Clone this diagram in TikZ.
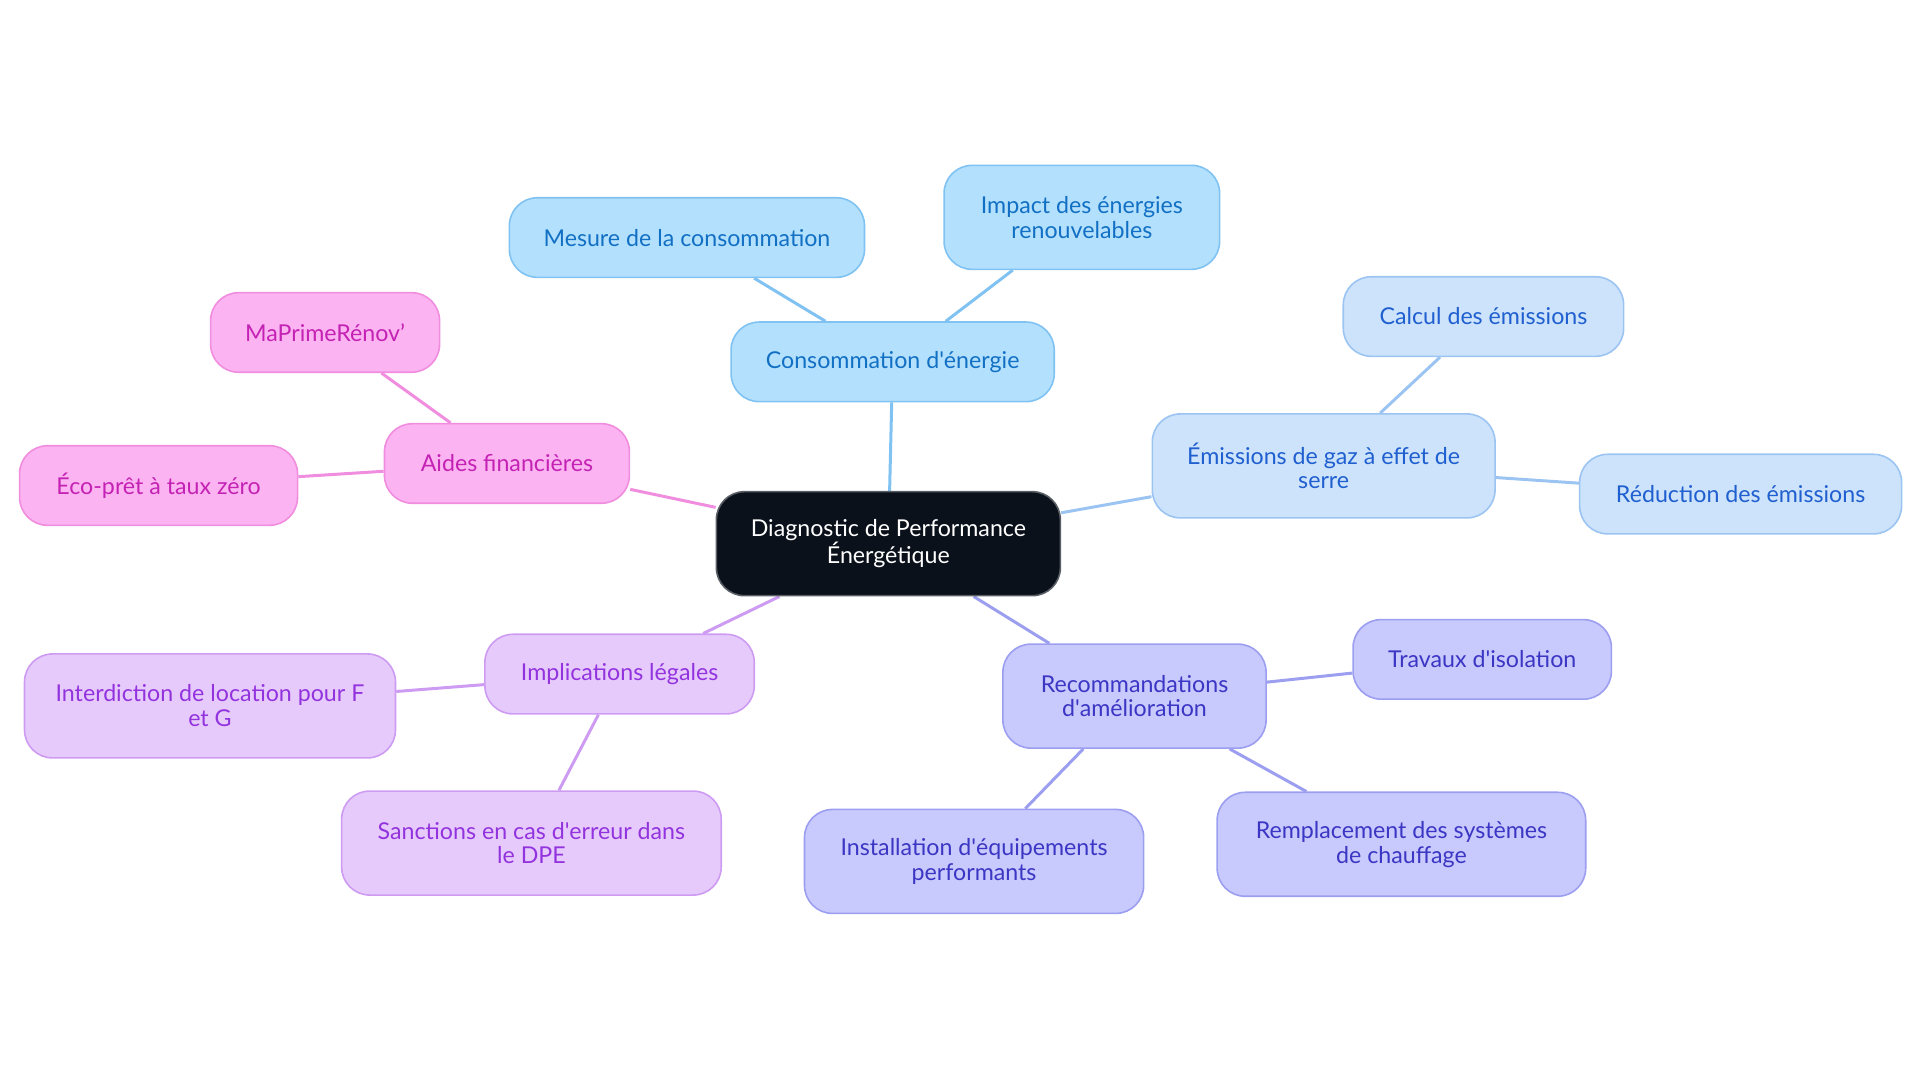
\documentclass[tikz,border=0pt]{standalone}
\usepackage{fontspec}
\setmainfont{Lato}
\usetikzlibrary{positioning, backgrounds}

% 顏色定義
\definecolor{rootfill}{HTML}{0B111B}
\definecolor{rootdraw}{HTML}{5A5F66}
\definecolor{consofill}{HTML}{B3E0FD}
\definecolor{consodraw}{HTML}{80C2F2}
\definecolor{consotext}{HTML}{1270C4}
\definecolor{gazfill}{HTML}{CCE3FB}
\definecolor{gazdraw}{HTML}{9CC4F2}
\definecolor{gaztext}{HTML}{1F5FCF}
\definecolor{recofill}{HTML}{C8C9FC}
\definecolor{recodraw}{HTML}{9C9EF0}
\definecolor{recotext}{HTML}{3B36C4}
\definecolor{legalfill}{HTML}{E7CAFC}
\definecolor{legaldraw}{HTML}{CD9CF2}
\definecolor{legaltext}{HTML}{9233DE}
\definecolor{aidefill}{HTML}{FCB3F1}
\definecolor{aidedraw}{HTML}{F08DDF}
\definecolor{aidetext}{HTML}{C422B4}

% 直撇號
\newcommand{\apos}{\textquotesingle}

\begin{document}
\begin{tikzpicture}[
    x=0.6123pt, y=-0.6123pt,
    font=\fontsize{11.6}{12.4}\selectfont,
    bubble/.style={draw, line width=0.8pt, rounded corners=14pt, align=center, inner sep=0pt},
    one/.style={minimum height=39.8pt},
    two/.style={minimum height=52pt},
    root/.style={bubble, fill=rootfill, draw=rootdraw, text=white},
    conso/.style={bubble, fill=consofill, draw=consodraw, text=consotext},
    gaz/.style={bubble, fill=gazfill, draw=gazdraw, text=gaztext},
    reco/.style={bubble, fill=recofill, draw=recodraw, text=recotext},
    legal/.style={bubble, fill=legalfill, draw=legaldraw, text=legaltext},
    aide/.style={bubble, fill=aidefill, draw=aidedraw, text=aidetext},
    link/.style={line width=1.5pt}
]

    % --- 0. 畫布範圍 ---
    \useasboundingbox (0,0) rectangle (1568,884.5);

    % --- 1. 中心節點 ---
    \node[root, two, minimum width=172pt] (dpe) at (725.5,444) {Diagnostic de Performance\\Énergétique};

    % --- 2. 第一層分支 ---
    \node[conso, one, minimum width=161.6pt] (conso) at (729,295.5) {Consommation d\apos énergie};
    \node[gaz, two, minimum width=171.4pt] (gaz) at (1081,380.5) {Émissions de gaz à effet de\\serre};
    \node[reco, two, minimum width=131.6pt] (reco) at (926.5,568.5) {Recommandations\\d\apos amélioration};
    \node[legal, one, minimum width=134.7pt] (legal) at (506,550.5) {Implications légales};
    \node[aide, one, minimum width=122.5pt] (aide) at (414,378.5) {Aides financières};

    % --- 3. 第二層葉節點 ---
    % Consommation
    \node[conso, one, minimum width=177.6pt] (mesure) at (561,194) {Mesure de la consommation};
    \node[conso, two, minimum width=137.8pt] (impact) at (883.5,177.5) {Impact des énergies\\renouvelables};

    % Émissions
    \node[gaz, one, minimum width=140.2pt] (calcul) at (1211.5,258.5) {Calcul des émissions};
    \node[gaz, one, minimum width=161pt] (reduc) at (1421.5,403.5) {Réduction des émissions};

    % Recommandations
    \node[reco, one, minimum width=129.2pt] (isol) at (1210.5,538.5) {Travaux d\apos isolation};
    \node[reco, two, minimum width=169.6pt] (equip) at (795.5,703.5) {Installation d\apos équipements\\performants};
    \node[reco, two, minimum width=184.3pt] (chauf) at (1144.5,689.5) {Remplacement des systèmes\\de chauffage};

    % Implications
    \node[legal, two, minimum width=185.5pt] (interdit) at (171.5,576.5) {Interdiction de location pour F\\et G};
    \node[legal, two, minimum width=189.8pt] (sanction) at (434,688.5) {Sanctions en cas d\apos erreur dans\\le DPE};

    % Aides
    \node[aide, one, minimum width=114.5pt] (prime) at (265.5,271.5) {MaPrimeRénov’};
    \node[aide, one, minimum width=139pt] (ecopret) at (129.5,396.5) {Éco-prêt à taux zéro};

    % --- 4. 連線 (放在背景層) ---
    \begin{scope}[on background layer]
        \draw[link, consodraw] (dpe) -- (conso);
        \draw[link, consodraw] (conso) -- (mesure);
        \draw[link, consodraw] (conso) -- (impact);

        \draw[link, gazdraw] (dpe) -- (gaz);
        \draw[link, gazdraw] (gaz) -- (calcul);
        \draw[link, gazdraw] (gaz) -- (reduc);

        \draw[link, recodraw] (dpe) -- (reco);
        \draw[link, recodraw] (reco) -- (isol);
        \draw[link, recodraw] (reco) -- (equip);
        \draw[link, recodraw] (reco) -- (chauf);

        \draw[link, legaldraw] (dpe) -- (legal);
        \draw[link, legaldraw] (legal) -- (interdit);
        \draw[link, legaldraw] (legal) -- (sanction);

        \draw[link, aidedraw] (dpe) -- (aide);
        \draw[link, aidedraw] (aide) -- (prime);
        \draw[link, aidedraw] (aide) -- (ecopret);
    \end{scope}

\end{tikzpicture}
\end{document}
